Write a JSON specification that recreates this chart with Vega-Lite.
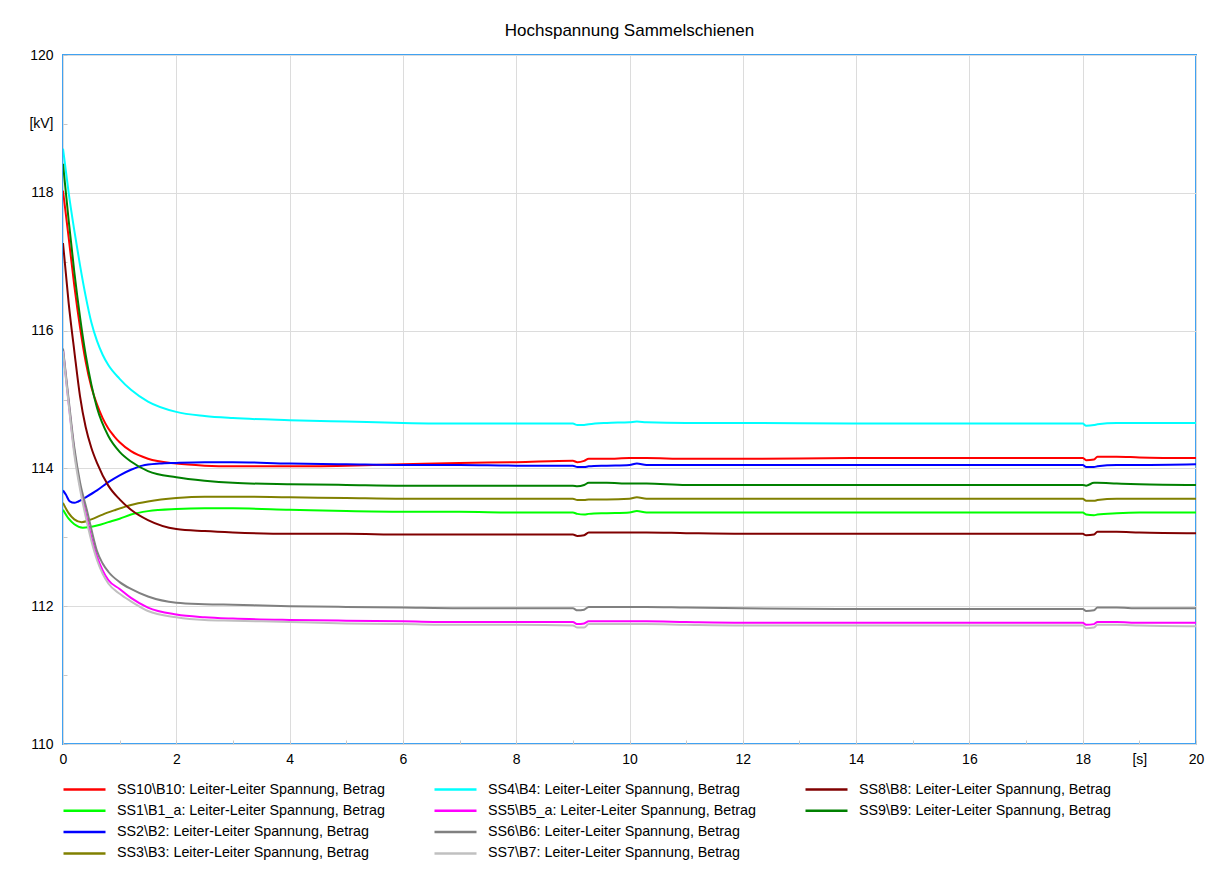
{
  "$schema": "https://vega.github.io/schema/vega-lite/v6.json",
  "width": 1133,
  "height": 689,
  "autosize": {"type": "none"},
  "padding": {"left": 63, "top": 55, "right": 19, "bottom": 125},
  "background": "white",
  "title": {"text": "Hochspannung Sammelschienen", "fontSize": 17, "font": "Liberation Sans", "fontWeight": "normal", "color": "black", "offset": 8, "anchor": "middle"},
  "config": {
    "view": {"stroke": "#3fa2f2", "strokeWidth": 2},
    "font": "Liberation Sans"
  },
  "datasets": {
    "names": [
      {"k": "SS10", "n": "SS10\\B10: Leiter-Leiter Spannung, Betrag"},
      {"k": "SS1", "n": "SS1\\B1_a: Leiter-Leiter Spannung, Betrag"},
      {"k": "SS2", "n": "SS2\\B2: Leiter-Leiter Spannung, Betrag"},
      {"k": "SS3", "n": "SS3\\B3: Leiter-Leiter Spannung, Betrag"},
      {"k": "SS4", "n": "SS4\\B4: Leiter-Leiter Spannung, Betrag"},
      {"k": "SS5", "n": "SS5\\B5_a: Leiter-Leiter Spannung, Betrag"},
      {"k": "SS6", "n": "SS6\\B6: Leiter-Leiter Spannung, Betrag"},
      {"k": "SS7", "n": "SS7\\B7: Leiter-Leiter Spannung, Betrag"},
      {"k": "SS8", "n": "SS8\\B8: Leiter-Leiter Spannung, Betrag"},
      {"k": "SS9", "n": "SS9\\B9: Leiter-Leiter Spannung, Betrag"}
    ],
    "pts": [
      {"k":"SS10","t":0,"v":118.03},{"k":"SS10","t":0.1,"v":117.35},{"k":"SS10","t":0.2,"v":116.65},{"k":"SS10","t":0.3,"v":116.05},{"k":"SS10","t":0.4,"v":115.55},{"k":"SS10","t":0.5,"v":115.18},{"k":"SS10","t":0.6,"v":114.93},{"k":"SS10","t":0.7,"v":114.73},{"k":"SS10","t":0.8,"v":114.58},{"k":"SS10","t":0.9,"v":114.47},{"k":"SS10","t":1.0,"v":114.38},{"k":"SS10","t":1.2,"v":114.25},{"k":"SS10","t":1.5,"v":114.14},{"k":"SS10","t":2,"v":114.07},{"k":"SS10","t":2.5,"v":114.04},{"k":"SS10","t":3,"v":114.03},{"k":"SS10","t":4,"v":114.03},{"k":"SS10","t":5,"v":114.04},{"k":"SS10","t":6,"v":114.06},{"k":"SS10","t":7,"v":114.08},{"k":"SS10","t":8,"v":114.09},{"k":"SS10","t":9.0,"v":114.11},{"k":"SS10","t":9.08,"v":114.09},{"k":"SS10","t":9.2,"v":114.11},{"k":"SS10","t":9.28,"v":114.14},{"k":"SS10","t":9.6,"v":114.14},{"k":"SS10","t":10,"v":114.15},{"k":"SS10","t":10.3,"v":114.15},{"k":"SS10","t":11,"v":114.14},{"k":"SS10","t":12,"v":114.14},{"k":"SS10","t":14,"v":114.15},{"k":"SS10","t":16,"v":114.15},{"k":"SS10","t":18.0,"v":114.15},{"k":"SS10","t":18.06,"v":114.12},{"k":"SS10","t":18.2,"v":114.13},{"k":"SS10","t":18.26,"v":114.17},{"k":"SS10","t":18.6,"v":114.17},{"k":"SS10","t":19,"v":114.16},{"k":"SS10","t":20,"v":114.15},

      {"k":"SS1","t":0,"v":113.4},{"k":"SS1","t":0.1,"v":113.27},{"k":"SS1","t":0.2,"v":113.19},{"k":"SS1","t":0.35,"v":113.14},{"k":"SS1","t":0.6,"v":113.17},{"k":"SS1","t":0.8,"v":113.22},{"k":"SS1","t":1.0,"v":113.27},{"k":"SS1","t":1.2,"v":113.33},{"k":"SS1","t":1.5,"v":113.38},{"k":"SS1","t":2,"v":113.41},{"k":"SS1","t":2.5,"v":113.42},{"k":"SS1","t":3,"v":113.42},{"k":"SS1","t":4,"v":113.4},{"k":"SS1","t":5,"v":113.38},{"k":"SS1","t":6,"v":113.37},{"k":"SS1","t":7,"v":113.37},{"k":"SS1","t":8,"v":113.36},{"k":"SS1","t":9.0,"v":113.36},{"k":"SS1","t":9.08,"v":113.34},{"k":"SS1","t":9.2,"v":113.33},{"k":"SS1","t":9.28,"v":113.34},{"k":"SS1","t":9.6,"v":113.35},{"k":"SS1","t":10,"v":113.36},{"k":"SS1","t":10.13,"v":113.38},{"k":"SS1","t":10.3,"v":113.36},{"k":"SS1","t":11,"v":113.36},{"k":"SS1","t":12,"v":113.36},{"k":"SS1","t":14,"v":113.36},{"k":"SS1","t":16,"v":113.36},{"k":"SS1","t":18.0,"v":113.36},{"k":"SS1","t":18.06,"v":113.33},{"k":"SS1","t":18.2,"v":113.32},{"k":"SS1","t":18.26,"v":113.33},{"k":"SS1","t":18.6,"v":113.35},{"k":"SS1","t":19,"v":113.36},{"k":"SS1","t":20,"v":113.36},

      {"k":"SS2","t":0,"v":113.68},{"k":"SS2","t":0.05,"v":113.62},{"k":"SS2","t":0.12,"v":113.52},{"k":"SS2","t":0.2,"v":113.5},{"k":"SS2","t":0.27,"v":113.52},{"k":"SS2","t":0.4,"v":113.58},{"k":"SS2","t":0.6,"v":113.68},{"k":"SS2","t":0.8,"v":113.8},{"k":"SS2","t":1.0,"v":113.9},{"k":"SS2","t":1.2,"v":113.98},{"k":"SS2","t":1.4,"v":114.04},{"k":"SS2","t":1.7,"v":114.07},{"k":"SS2","t":2,"v":114.08},{"k":"SS2","t":2.5,"v":114.09},{"k":"SS2","t":3,"v":114.09},{"k":"SS2","t":4,"v":114.07},{"k":"SS2","t":5,"v":114.06},{"k":"SS2","t":6,"v":114.05},{"k":"SS2","t":7,"v":114.05},{"k":"SS2","t":8,"v":114.04},{"k":"SS2","t":9.0,"v":114.04},{"k":"SS2","t":9.08,"v":114.02},{"k":"SS2","t":9.2,"v":114.02},{"k":"SS2","t":9.28,"v":114.03},{"k":"SS2","t":9.6,"v":114.04},{"k":"SS2","t":10,"v":114.05},{"k":"SS2","t":10.13,"v":114.07},{"k":"SS2","t":10.3,"v":114.05},{"k":"SS2","t":11,"v":114.05},{"k":"SS2","t":12,"v":114.05},{"k":"SS2","t":14,"v":114.05},{"k":"SS2","t":16,"v":114.05},{"k":"SS2","t":18.0,"v":114.05},{"k":"SS2","t":18.06,"v":114.02},{"k":"SS2","t":18.2,"v":114.02},{"k":"SS2","t":18.26,"v":114.03},{"k":"SS2","t":18.6,"v":114.05},{"k":"SS2","t":19,"v":114.05},{"k":"SS2","t":20,"v":114.06},

      {"k":"SS3","t":0,"v":113.5},{"k":"SS3","t":0.1,"v":113.35},{"k":"SS3","t":0.2,"v":113.26},{"k":"SS3","t":0.33,"v":113.22},{"k":"SS3","t":0.5,"v":113.26},{"k":"SS3","t":0.7,"v":113.33},{"k":"SS3","t":0.9,"v":113.39},{"k":"SS3","t":1.2,"v":113.47},{"k":"SS3","t":1.5,"v":113.52},{"k":"SS3","t":2,"v":113.57},{"k":"SS3","t":2.5,"v":113.59},{"k":"SS3","t":3,"v":113.59},{"k":"SS3","t":4,"v":113.58},{"k":"SS3","t":5,"v":113.57},{"k":"SS3","t":6,"v":113.56},{"k":"SS3","t":7,"v":113.56},{"k":"SS3","t":8,"v":113.56},{"k":"SS3","t":9.0,"v":113.56},{"k":"SS3","t":9.08,"v":113.54},{"k":"SS3","t":9.2,"v":113.54},{"k":"SS3","t":9.28,"v":113.55},{"k":"SS3","t":9.6,"v":113.55},{"k":"SS3","t":10,"v":113.56},{"k":"SS3","t":10.13,"v":113.58},{"k":"SS3","t":10.3,"v":113.56},{"k":"SS3","t":11,"v":113.56},{"k":"SS3","t":12,"v":113.56},{"k":"SS3","t":14,"v":113.56},{"k":"SS3","t":16,"v":113.56},{"k":"SS3","t":18.0,"v":113.56},{"k":"SS3","t":18.06,"v":113.53},{"k":"SS3","t":18.2,"v":113.53},{"k":"SS3","t":18.26,"v":113.54},{"k":"SS3","t":18.6,"v":113.56},{"k":"SS3","t":19,"v":113.56},{"k":"SS3","t":20,"v":113.56},

      {"k":"SS4","t":0,"v":118.64},{"k":"SS4","t":0.1,"v":118.0},{"k":"SS4","t":0.2,"v":117.45},{"k":"SS4","t":0.3,"v":116.95},{"k":"SS4","t":0.4,"v":116.5},{"k":"SS4","t":0.5,"v":116.12},{"k":"SS4","t":0.6,"v":115.85},{"k":"SS4","t":0.7,"v":115.65},{"k":"SS4","t":0.8,"v":115.5},{"k":"SS4","t":1.0,"v":115.3},{"k":"SS4","t":1.2,"v":115.14},{"k":"SS4","t":1.5,"v":114.97},{"k":"SS4","t":2,"v":114.82},{"k":"SS4","t":2.5,"v":114.76},{"k":"SS4","t":3,"v":114.73},{"k":"SS4","t":4,"v":114.7},{"k":"SS4","t":5,"v":114.68},{"k":"SS4","t":6,"v":114.66},{"k":"SS4","t":7,"v":114.65},{"k":"SS4","t":8,"v":114.65},{"k":"SS4","t":9.0,"v":114.65},{"k":"SS4","t":9.08,"v":114.63},{"k":"SS4","t":9.2,"v":114.63},{"k":"SS4","t":9.28,"v":114.64},{"k":"SS4","t":9.6,"v":114.66},{"k":"SS4","t":10,"v":114.67},{"k":"SS4","t":10.13,"v":114.68},{"k":"SS4","t":10.3,"v":114.67},{"k":"SS4","t":11,"v":114.66},{"k":"SS4","t":12,"v":114.66},{"k":"SS4","t":14,"v":114.65},{"k":"SS4","t":16,"v":114.65},{"k":"SS4","t":18.0,"v":114.65},{"k":"SS4","t":18.06,"v":114.62},{"k":"SS4","t":18.2,"v":114.63},{"k":"SS4","t":18.26,"v":114.64},{"k":"SS4","t":18.6,"v":114.66},{"k":"SS4","t":19,"v":114.66},{"k":"SS4","t":20,"v":114.66},

      {"k":"SS5","t":0,"v":115.72},{"k":"SS5","t":0.1,"v":114.95},{"k":"SS5","t":0.2,"v":114.25},{"k":"SS5","t":0.3,"v":113.75},{"k":"SS5","t":0.4,"v":113.35},{"k":"SS5","t":0.5,"v":113.0},{"k":"SS5","t":0.6,"v":112.72},{"k":"SS5","t":0.7,"v":112.52},{"k":"SS5","t":0.8,"v":112.38},{"k":"SS5","t":1.0,"v":112.25},{"k":"SS5","t":1.2,"v":112.12},{"k":"SS5","t":1.5,"v":111.98},{"k":"SS5","t":2,"v":111.88},{"k":"SS5","t":2.5,"v":111.84},{"k":"SS5","t":3,"v":111.82},{"k":"SS5","t":4,"v":111.8},{"k":"SS5","t":5,"v":111.79},{"k":"SS5","t":6,"v":111.78},{"k":"SS5","t":7,"v":111.77},{"k":"SS5","t":8,"v":111.77},{"k":"SS5","t":9.0,"v":111.77},{"k":"SS5","t":9.08,"v":111.74},{"k":"SS5","t":9.2,"v":111.75},{"k":"SS5","t":9.28,"v":111.78},{"k":"SS5","t":9.6,"v":111.78},{"k":"SS5","t":10,"v":111.78},{"k":"SS5","t":10.3,"v":111.78},{"k":"SS5","t":11,"v":111.77},{"k":"SS5","t":12,"v":111.76},{"k":"SS5","t":14,"v":111.76},{"k":"SS5","t":16,"v":111.76},{"k":"SS5","t":18.0,"v":111.76},{"k":"SS5","t":18.06,"v":111.73},{"k":"SS5","t":18.2,"v":111.74},{"k":"SS5","t":18.26,"v":111.77},{"k":"SS5","t":18.6,"v":111.77},{"k":"SS5","t":19,"v":111.76},{"k":"SS5","t":20,"v":111.76},

      {"k":"SS6","t":0,"v":115.74},{"k":"SS6","t":0.1,"v":115.0},{"k":"SS6","t":0.2,"v":114.3},{"k":"SS6","t":0.3,"v":113.8},{"k":"SS6","t":0.42,"v":113.4},{"k":"SS6","t":0.5,"v":113.12},{"k":"SS6","t":0.6,"v":112.8},{"k":"SS6","t":0.7,"v":112.62},{"k":"SS6","t":0.8,"v":112.5},{"k":"SS6","t":1.0,"v":112.35},{"k":"SS6","t":1.2,"v":112.25},{"k":"SS6","t":1.5,"v":112.14},{"k":"SS6","t":2,"v":112.05},{"k":"SS6","t":2.5,"v":112.03},{"k":"SS6","t":3,"v":112.02},{"k":"SS6","t":4,"v":112.0},{"k":"SS6","t":5,"v":111.99},{"k":"SS6","t":6,"v":111.98},{"k":"SS6","t":7,"v":111.97},{"k":"SS6","t":8,"v":111.97},{"k":"SS6","t":9.0,"v":111.97},{"k":"SS6","t":9.08,"v":111.94},{"k":"SS6","t":9.2,"v":111.95},{"k":"SS6","t":9.28,"v":111.99},{"k":"SS6","t":9.6,"v":111.99},{"k":"SS6","t":10,"v":111.99},{"k":"SS6","t":10.3,"v":111.99},{"k":"SS6","t":11,"v":111.98},{"k":"SS6","t":12,"v":111.97},{"k":"SS6","t":14,"v":111.96},{"k":"SS6","t":16,"v":111.96},{"k":"SS6","t":18.0,"v":111.96},{"k":"SS6","t":18.06,"v":111.93},{"k":"SS6","t":18.2,"v":111.94},{"k":"SS6","t":18.26,"v":111.98},{"k":"SS6","t":18.6,"v":111.98},{"k":"SS6","t":19,"v":111.97},{"k":"SS6","t":20,"v":111.97},

      {"k":"SS7","t":0,"v":115.7},{"k":"SS7","t":0.1,"v":114.93},{"k":"SS7","t":0.2,"v":114.2},{"k":"SS7","t":0.3,"v":113.7},{"k":"SS7","t":0.4,"v":113.3},{"k":"SS7","t":0.5,"v":112.95},{"k":"SS7","t":0.6,"v":112.67},{"k":"SS7","t":0.7,"v":112.47},{"k":"SS7","t":0.8,"v":112.33},{"k":"SS7","t":1.0,"v":112.18},{"k":"SS7","t":1.2,"v":112.07},{"k":"SS7","t":1.5,"v":111.93},{"k":"SS7","t":2,"v":111.84},{"k":"SS7","t":2.5,"v":111.8},{"k":"SS7","t":3,"v":111.79},{"k":"SS7","t":4,"v":111.77},{"k":"SS7","t":5,"v":111.75},{"k":"SS7","t":6,"v":111.74},{"k":"SS7","t":7,"v":111.73},{"k":"SS7","t":8,"v":111.73},{"k":"SS7","t":9.0,"v":111.72},{"k":"SS7","t":9.08,"v":111.69},{"k":"SS7","t":9.2,"v":111.69},{"k":"SS7","t":9.28,"v":111.74},{"k":"SS7","t":9.6,"v":111.74},{"k":"SS7","t":10,"v":111.74},{"k":"SS7","t":10.3,"v":111.74},{"k":"SS7","t":11,"v":111.73},{"k":"SS7","t":12,"v":111.72},{"k":"SS7","t":14,"v":111.72},{"k":"SS7","t":16,"v":111.72},{"k":"SS7","t":18.0,"v":111.72},{"k":"SS7","t":18.06,"v":111.68},{"k":"SS7","t":18.2,"v":111.69},{"k":"SS7","t":18.26,"v":111.73},{"k":"SS7","t":18.6,"v":111.73},{"k":"SS7","t":19,"v":111.72},{"k":"SS7","t":20,"v":111.71},

      {"k":"SS8","t":0,"v":117.27},{"k":"SS8","t":0.1,"v":116.4},{"k":"SS8","t":0.2,"v":115.7},{"k":"SS8","t":0.3,"v":115.05},{"k":"SS8","t":0.4,"v":114.6},{"k":"SS8","t":0.5,"v":114.3},{"k":"SS8","t":0.6,"v":114.08},{"k":"SS8","t":0.8,"v":113.75},{"k":"SS8","t":1.0,"v":113.55},{"k":"SS8","t":1.2,"v":113.4},{"k":"SS8","t":1.5,"v":113.25},{"k":"SS8","t":2,"v":113.12},{"k":"SS8","t":2.5,"v":113.09},{"k":"SS8","t":3,"v":113.07},{"k":"SS8","t":4,"v":113.05},{"k":"SS8","t":5,"v":113.05},{"k":"SS8","t":6,"v":113.04},{"k":"SS8","t":7,"v":113.04},{"k":"SS8","t":8,"v":113.04},{"k":"SS8","t":9.0,"v":113.04},{"k":"SS8","t":9.08,"v":113.02},{"k":"SS8","t":9.2,"v":113.03},{"k":"SS8","t":9.28,"v":113.07},{"k":"SS8","t":9.6,"v":113.07},{"k":"SS8","t":10,"v":113.07},{"k":"SS8","t":10.3,"v":113.07},{"k":"SS8","t":11,"v":113.06},{"k":"SS8","t":12,"v":113.05},{"k":"SS8","t":14,"v":113.05},{"k":"SS8","t":16,"v":113.05},{"k":"SS8","t":18.0,"v":113.05},{"k":"SS8","t":18.06,"v":113.03},{"k":"SS8","t":18.2,"v":113.04},{"k":"SS8","t":18.26,"v":113.08},{"k":"SS8","t":18.6,"v":113.08},{"k":"SS8","t":19,"v":113.07},{"k":"SS8","t":20,"v":113.06},

      {"k":"SS9","t":0,"v":118.42},{"k":"SS9","t":0.1,"v":117.6},{"k":"SS9","t":0.2,"v":116.85},{"k":"SS9","t":0.3,"v":116.2},{"k":"SS9","t":0.4,"v":115.65},{"k":"SS9","t":0.5,"v":115.22},{"k":"SS9","t":0.6,"v":114.88},{"k":"SS9","t":0.8,"v":114.47},{"k":"SS9","t":1.0,"v":114.24},{"k":"SS9","t":1.2,"v":114.1},{"k":"SS9","t":1.5,"v":113.96},{"k":"SS9","t":2,"v":113.87},{"k":"SS9","t":2.5,"v":113.82},{"k":"SS9","t":3,"v":113.79},{"k":"SS9","t":4,"v":113.77},{"k":"SS9","t":5,"v":113.76},{"k":"SS9","t":6,"v":113.75},{"k":"SS9","t":7,"v":113.75},{"k":"SS9","t":8,"v":113.75},{"k":"SS9","t":9.0,"v":113.75},{"k":"SS9","t":9.08,"v":113.74},{"k":"SS9","t":9.2,"v":113.76},{"k":"SS9","t":9.28,"v":113.79},{"k":"SS9","t":9.6,"v":113.79},{"k":"SS9","t":10,"v":113.78},{"k":"SS9","t":10.3,"v":113.78},{"k":"SS9","t":11,"v":113.76},{"k":"SS9","t":12,"v":113.76},{"k":"SS9","t":14,"v":113.76},{"k":"SS9","t":16,"v":113.76},{"k":"SS9","t":18.0,"v":113.76},{"k":"SS9","t":18.06,"v":113.75},{"k":"SS9","t":18.2,"v":113.79},{"k":"SS9","t":18.26,"v":113.79},{"k":"SS9","t":18.6,"v":113.78},{"k":"SS9","t":19,"v":113.77},{"k":"SS9","t":20,"v":113.76}
    ]
  },
  "data": {"name": "pts"},
  "transform": [
    {"lookup": "k", "from": {"data": {"name": "names"}, "key": "k", "fields": ["n"]}}
  ],
  "mark": {"type": "line", "strokeWidth": 2, "interpolate": "monotone", "clip": true},
  "encoding": {
    "x": {
      "field": "t", "type": "quantitative",
      "scale": {"domain": [0, 20], "nice": false, "zero": false},
      "axis": {
        "title": null,
        "values": [0,1,2,3,4,5,6,7,8,9,10,11,12,13,14,15,16,17,18,19,20],
        "format": "d",
        "labelExpr": "datum.value == 19 ? '[s]' : (datum.value % 2 == 0 ? datum.label : '')",
        "labelFontSize": 14, "labelFont": "Liberation Sans", "labelColor": "black",
        "labelPadding": 12, "labelFlush": false, "labelOverlap": false,
        "domain": false,
        "ticks": true, "tickSize": -4, "tickColor": "#c8c8c8", "tickWidth": 1,
        "grid": true, "gridColor": "#dcdcdc", "gridWidth": 1,
        "gridOpacity": {"condition": {"test": "datum.value % 2 != 0", "value": 0}, "value": 1}
      }
    },
    "y": {
      "field": "v", "type": "quantitative",
      "scale": {"domain": [110, 120], "nice": false, "zero": false},
      "axis": {
        "title": null,
        "values": [110,110.5,111,111.5,112,112.5,113,113.5,114,114.5,115,115.5,116,116.5,117,117.5,118,118.5,119,119.5,120],
        "format": "d",
        "labelExpr": "datum.value == 119 ? '[kV]' : (datum.value % 2 == 0 ? datum.label : '')",
        "labelFontSize": 14, "labelFont": "Liberation Sans", "labelColor": "black",
        "labelPadding": 14, "labelOverlap": false, "labelFlush": false,
        "domain": false,
        "ticks": true, "tickSize": -4, "tickColor": "#c8c8c8", "tickWidth": 1,
        "grid": true, "gridColor": "#dcdcdc", "gridWidth": 1,
        "gridOpacity": {"condition": {"test": "datum.value % 2 != 0", "value": 0}, "value": 1}
      }
    },
    "color": {
      "field": "n", "type": "nominal",
      "scale": {
        "domain": [
          "SS10\\B10: Leiter-Leiter Spannung, Betrag",
          "SS1\\B1_a: Leiter-Leiter Spannung, Betrag",
          "SS2\\B2: Leiter-Leiter Spannung, Betrag",
          "SS3\\B3: Leiter-Leiter Spannung, Betrag",
          "SS4\\B4: Leiter-Leiter Spannung, Betrag",
          "SS5\\B5_a: Leiter-Leiter Spannung, Betrag",
          "SS6\\B6: Leiter-Leiter Spannung, Betrag",
          "SS7\\B7: Leiter-Leiter Spannung, Betrag",
          "SS8\\B8: Leiter-Leiter Spannung, Betrag",
          "SS9\\B9: Leiter-Leiter Spannung, Betrag",
          " ",
          "  "
        ],
        "range": ["#ff0000", "#00ff00", "#0000ff", "#808000", "#00ffff", "#ff00ff", "#808080", "#c0c0c0", "#800000", "#008000", "transparent", "transparent"]
      },
      "legend": {
        "title": null,
        "orient": "none",
        "direction": "vertical",
        "legendX": 13,
        "legendY": 726,
        "columns": 3,
        "gridAlign": "all",
        "columnPadding": 44,
        "rowPadding": 5.3,
        "padding": 0,
        "symbolType": "M-3,0H3",
        "symbolSize": 196,
        "symbolStrokeWidth": 2.5,
        "labelFontSize": 14.3,
        "labelFont": "Liberation Sans",
        "labelColor": "black",
        "labelOffset": 24,
        "labelLimit": 0
      }
    }
  }
}
